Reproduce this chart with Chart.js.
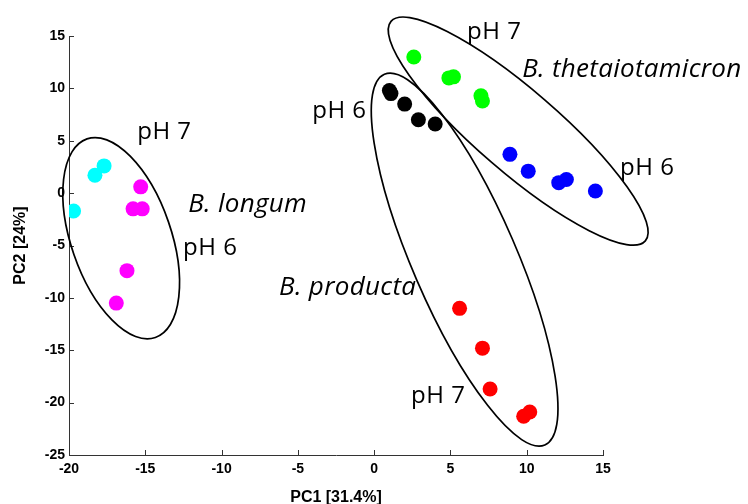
<!DOCTYPE html>
<html>
<head>
<meta charset="utf-8">
<script src="https://cdn.jsdelivr.net/npm/chart.js@4/dist/chart.umd.min.js"></script>
<style>
  html, body { margin: 0; padding: 0; background: #fff; }
  #wrap { width: 748px; height: 504px; }
</style>
</head>
<body>
<div id="wrap"><canvas id="pcaChart"></canvas></div>
<script>
// PCA scores
const longumPH7 = [[-17.7, 2.6], [-18.3, 1.7], [-19.7, -1.7]];
const longumPH6 = [[-15.3, 0.6], [-15.8, -1.5], [-15.2, -1.5], [-16.2, -7.4], [-16.9, -10.5]];
const thetaPH7 = [[2.6, 13.0], [4.9, 11.0], [5.2, 11.1], [7.0, 9.3], [7.1, 8.8]];
const thetaPH6 = [[8.9, 3.7], [10.1, 2.1], [12.1, 1.0], [12.6, 1.3], [14.5, 0.2]];
const productaPH6 = [[1.0, 9.8], [1.1, 9.5], [2.0, 8.5], [2.9, 7.0], [4.0, 6.6]];
const productaPH7 = [[5.6, -11.0], [7.1, -14.8], [7.6, -18.7], [9.8, -21.3], [10.2, -20.9]];

const xTicks = [-20, -15, -10, -5, 0, 5, 10, 15];
const yTicks = [-25, -20, -15, -10, -5, 0, 5, 10, 15];

// group outlines: centre in data units, semi-axes in px, tilt in degrees
const ellipses = [
    { cx: -16.58, cy: -4.3, a: 105, b: 50, angle: 71 },
    { cx: 5.93, cy: -6.35, a: 202, b: 52, angle: 66.6 },
    { cx: 9.44, cy: 5.92, a: 168, b: 41, angle: 40.8 }
];

// text annotations: left/baseline in data units
const notes = [
    { text: 'pH 7', x: -15.53, y: 5.16 },
    { text: 'B. longum', x: -12.19, y: -1.81, italic: true },
    { text: 'pH 6', x: -12.52, y: -5.92 },
    { text: 'pH 6', x: -4.06, y: 7.16 },
    { text: 'B. producta', x: -6.23, y: -9.74, italic: true },
    { text: 'pH 7', x: 2.42, y: -20.05 },
    { text: 'pH 7', x: 6.09, y: 14.7 },
    { text: 'B. thetaiotamicron', x: 9.70, y: 11.07, italic: true },
    { text: 'pH 6', x: 16.12, y: 1.72 }
];

function toPoints(arr) {
    return arr.map(function (p) { return { x: p[0], y: p[1] }; });
}

function group(label, arr, color) {
    return {
        label: label,
        data: toPoints(arr),
        backgroundColor: color,
        borderColor: color,
        pointRadius: 7.5,
        pointHoverRadius: 7.5,
        borderWidth: 0
    };
}

const decorations = {
    id: 'decorations',
    afterDraw: function (chart) {
        const c = chart.ctx;
        const xs = chart.scales.x, ys = chart.scales.y;
        c.save();
        // inward tick marks
        c.strokeStyle = '#333';
        c.lineWidth = 1;
        c.beginPath();
        xTicks.forEach(function (v) {
            const px = Math.round(xs.getPixelForValue(v)) + 0.5;
            c.moveTo(px, ys.bottom);
            c.lineTo(px, ys.bottom - 5);
        });
        yTicks.forEach(function (v) {
            const py = Math.round(ys.getPixelForValue(v)) + 0.5;
            c.moveTo(xs.left, py);
            c.lineTo(xs.left + 5, py);
        });
        c.stroke();

        // ellipses
        c.strokeStyle = '#000';
        c.lineWidth = 1.7;
        ellipses.forEach(function (e) {
            c.beginPath();
            c.ellipse(xs.getPixelForValue(e.cx), ys.getPixelForValue(e.cy),
                e.a, e.b, e.angle * Math.PI / 180, 0, Math.PI * 2);
            c.stroke();
        });

        // labels
        c.fillStyle = '#000';
        c.textBaseline = 'alphabetic';
        c.textAlign = 'left';
        notes.forEach(function (n) {
            c.font = n.italic ? 'italic 26px "Open Sans"' : '24px "Open Sans"';
            c.letterSpacing = n.italic ? '0.3px' : '0.5px';
            c.fillText(n.text, xs.getPixelForValue(n.x), ys.getPixelForValue(n.y));
        });
        c.restore();
    }
};

const tickFont = { family: '"Liberation Sans", Arial', size: 14, weight: 'bold' };
const titleFont = { family: '"Liberation Sans", Arial', size: 16, weight: 'bold' };

document.addEventListener('DOMContentLoaded', function () {
    const ctx = document.getElementById('pcaChart');

    new Chart(ctx, {
        type: 'scatter',
        data: {
            datasets: [
                group('B. longum pH 7', longumPH7, '#00ffff'),
                group('B. longum pH 6', longumPH6, '#ff00ff'),
                group('B. thetaiotamicron pH 7', thetaPH7, '#00ff00'),
                group('B. thetaiotamicron pH 6', thetaPH6, '#0000ff'),
                group('B. producta pH 6', productaPH6, '#000000'),
                group('B. producta pH 7', productaPH7, '#ff0000')
            ]
        },
        options: {
            responsive: true,
            maintainAspectRatio: false,
            animation: false,
            layout: { padding: { top: 36, right: 145, left: 0, bottom: 0 } },
            plugins: {
                legend: { display: false },
                tooltip: { enabled: false }
            },
            scales: {
                x: {
                    type: 'linear',
                    min: -20,
                    max: 15,
                    afterFit: function (s) { s.height = 49; },
                    afterBuildTicks: function (s) {
                        s.ticks = xTicks.map(function (v) { return { value: v }; });
                    },
                    grid: { display: true, drawOnChartArea: false, drawTicks: false },
                    border: { display: true, color: '#333', width: 1 },
                    ticks: {
                        color: '#000',
                        padding: 6,
                        maxRotation: 0,
                        font: tickFont
                    },
                    title: {
                        display: true,
                        text: 'PC1 [31.4%]',
                        color: '#000',
                        padding: { top: 0, bottom: -3 },
                        font: titleFont
                    }
                },
                y: {
                    type: 'linear',
                    min: -25,
                    max: 15,
                    afterFit: function (s) { s.width = 69; },
                    afterBuildTicks: function (s) {
                        s.ticks = yTicks.map(function (v) { return { value: v }; });
                    },
                    grid: { display: true, drawOnChartArea: false, drawTicks: false },
                    border: { display: true, color: '#333', width: 1 },
                    ticks: {
                        color: '#000',
                        padding: 4,
                        font: tickFont
                    },
                    title: {
                        display: true,
                        text: 'PC2 [24%]',
                        color: '#000',
                        padding: { top: 11, bottom: 0 },
                        font: titleFont
                    }
                }
            }
        },
        plugins: [decorations]
    });
});
</script>
</body>
</html>
